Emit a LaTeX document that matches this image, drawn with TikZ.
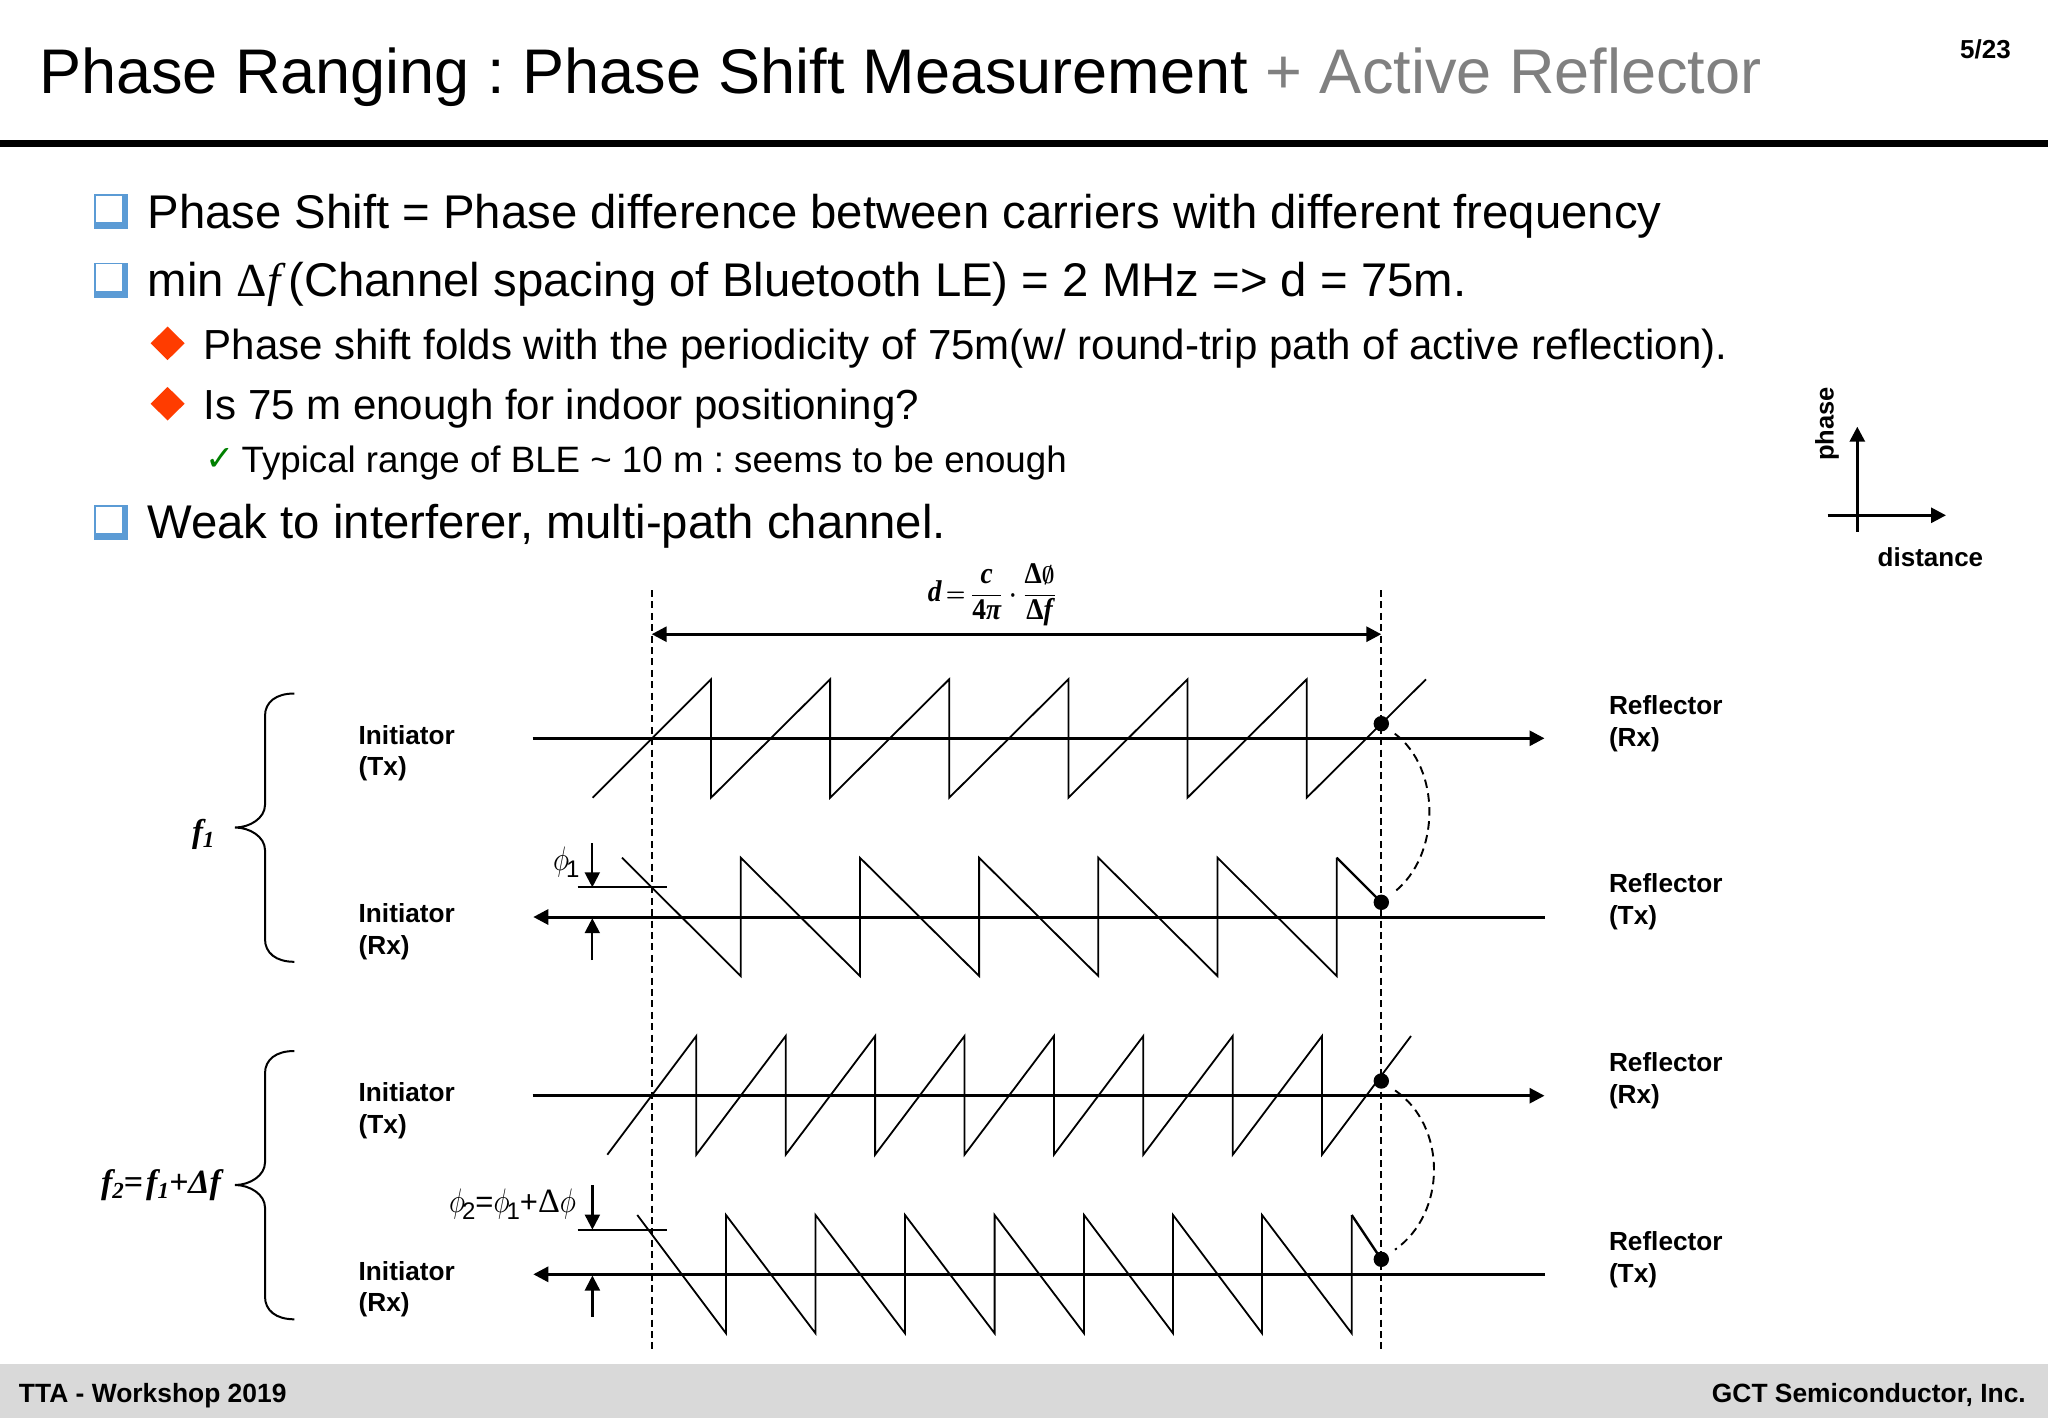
\documentclass[tikz,border=0pt]{standalone}
\usepackage{graphicx}
\usepackage[no-math]{fontspec}
\setmainfont{Liberation Sans}
\newfontfamily\srf{Liberation Serif}
\newfontfamily\djv{DejaVu Sans}
\usetikzlibrary{arrows.meta}
\definecolor{bulblue}{HTML}{5B9BD5}
\definecolor{bulred}{HTML}{FF3C00}
\definecolor{footgray}{HTML}{D9D9D9}
\definecolor{titlegray}{HTML}{808080}
\definecolor{chkgreen}{HTML}{008000}
\AtBeginDocument{\frenchspacing}
\newcommand{\fs}[1]{\fontsize{#1}{#1}\selectfont}
\newcommand{\phisym}{\scalebox{2.7}[3.4]{$\phi$}}
\newcommand{\phisub}[1]{\kern-3pt\raisebox{-7pt}{\fs{24}#1}}
\newcommand{\subit}[1]{\raisebox{-5pt}{\fs{23}#1}}
\newcommand{\fb}[1]{\hbox{\srf\bfseries\itshape\fs{12.5}#1}}
\newcommand{\fu}[1]{\hbox{\srf\bfseries\fs{12.5}#1}}
\tikzset{
  txt/.style={anchor=base west,inner sep=0pt,outer sep=0pt},
  lvlone/.style={txt,font=\fs{47.3}},
  lvltwo/.style={txt,font=\fs{42.05}},
  lvlthree/.style={txt,font=\fs{36.7}},
  lab/.style={anchor=west,inner sep=0pt,outer sep=0pt,align=left,font=\fontsize{26.2}{31.6}\selectfont\bfseries},
  axisline/.style={line width=3pt},
  sawline/.style={line width=1.8pt,line join=miter},
  vdash/.style={line width=1.9pt,dash pattern=on 7pt off 4.4pt},
  arcdash/.style={line width=1.9pt,dash pattern=on 8.5pt off 5.5pt,shorten >=9pt,shorten <=9pt},
  tip/.style={-{Triangle[length=15pt,width=15pt]}},
  dot/.style={circle,fill=black,inner sep=0pt,outer sep=0pt,minimum size=15.4pt},
  bracepath/.style={line width=2pt},
  thinmark/.style={line width=2.2pt},
  bulbox/.pic={
    \fill[bulblue] (0,0) rectangle (34,35);
    \fill[white] (2,1.5) rectangle (28,28);
  },
  buldiam/.pic={
    \fill[bulred] (-17,0) -- (0,-16.8) -- (17,0) -- (0,16.8) -- cycle;
  }
}
\begin{document}
\begin{tikzpicture}[x=1pt,y=-1pt]
\useasboundingbox (0,0) rectangle (2048,1418);
\fill[white] (0,0) rectangle (2048,1418);
% header and footer
\node[txt,font=\fs{63.05}] (title) at (39,94) {Phase Ranging : Phase Shift Measurement {\color{titlegray}+ Active Reflector}};
\node[anchor=base east,inner sep=0pt,font=\fs{26}\bfseries] (pagenum) at (2011,59) {5/23};
\fill[black] (0,140) rectangle (2048,147);
\fill[footgray] (0,1364) rectangle (2048,1418);
\node[txt,font=\fs{26.4}\bfseries] (footl) at (19,1402) {TTA - Workshop 2019};
\node[anchor=base east,inner sep=0pt,font=\fs{26.4}\bfseries] (footr) at (2026,1402) {GCT Semiconductor, Inc.};
% bullets
\pic at (94.4,194) {bulbox};
\pic at (94.4,262.7) {bulbox};
\pic at (94.4,505) {bulbox};
\pic at (167.6,343.3) {buldiam};
\pic at (167.6,403.7) {buldiam};
\node[txt,font=\djv\fs{35},text=chkgreen] (chk) at (205,470) {✓};
\node[lvlone] (l1) at (147.6,228) {Phase Shift = Phase difference between carriers with different frequency};
\node[lvlone] (l2) at (147.6,296) {min {\srf Δ\itshape f\,}(Channel spacing of Bluetooth LE) = 2 MHz => d = 75m.};
\node[lvltwo] (l3) at (203.7,359) {Phase shift folds with the periodicity of 75m(w/ round-trip path of active reflection).};
\node[lvltwo] (l4) at (203.7,419) {Is 75 m enough for indoor positioning?};
\node[lvlthree] (l5) at (241.6,472.7) {Typical range of BLE \textasciitilde{} 10 m : seems to be enough};
\node[lvlone] (l6) at (147.6,538) {Weak to interferer, multi-path channel.};
% small axes
\coordinate (ph0) at (1857.3,531.7);
\coordinate (ph1) at (1857.3,426.7);
\coordinate (di0) at (1827.7,515.3);
\coordinate (di1) at (1946,515.3);
\draw[axisline,tip] (ph0) -- (ph1);
\draw[axisline,tip] (di0) -- (di1);
\node[rotate=90,anchor=center,inner sep=0pt,font=\fs{25.5}\bfseries] (phlab) at (1827,424) {phase};
\node[anchor=base west,inner sep=0pt,font=\fs{26}\bfseries] (dilab) at (1877.5,566) {distance};
% vertical dashed lines
\coordinate (vlt) at (651.7,590);
\coordinate (vlb) at (651.7,1349);
\coordinate (vrt) at (1381.3,590);
\coordinate (vrb) at (1381.3,1349);
\draw[vdash] (vlt) -- (vlb);
\draw[vdash] (vrt) -- (vrb);
% formula and dimension arrow
\node[inner sep=0pt] (formula) at (992.5,595) {\scalebox{2.2}[2.4]{\boldmath$\displaystyle \fb{d}\,{=}\,\frac{\fb{c}}{\fu{4}\fb{π}}\cdot\frac{\fu{Δ}\emptyset}{\fu{Δ}\fb{f}}$}};
\coordinate (dl) at (651.7,634.2);
\coordinate (dr) at (1381.3,634.2);
\draw[axisline,{Triangle[length=15pt,width=15pt]}-{Triangle[length=15pt,width=15pt]}] (dl) -- (dr);
% group 1, Tx
\coordinate (a1l) at (532.7,738.3);
\coordinate (a1r) at (1544.5,738.3);
\draw[axisline,tip] (a1l) -- (a1r);
\draw[sawline] (592.7,797.7) -- (711,679.3) -- (711,797.7) -- (830.1,679.3) -- (830.1,797.7) -- (949.2,679.3) -- (949.2,797.7) -- (1068.4,679.3) -- (1068.4,797.7) -- (1187.5,679.3) -- (1187.5,797.7) -- (1306.7,679.3) -- (1306.7,797.7) -- (1426,679.3);
% group 1, Rx
\coordinate (a2l) at (533.3,917);
\coordinate (a2r) at (1545,917);
\draw[axisline,tip] (a2r) -- (a2l);
\draw[sawline] (622,857.7) -- (740.7,976) -- (740.7,857.7) -- (859.9,976) -- (859.9,857.7) -- (979.1,976) -- (979.1,857.7) -- (1098.3,976) -- (1098.3,857.7) -- (1217.5,976) -- (1217.5,857.7) -- (1336.7,976) -- (1336.7,857.7);
\draw[line width=2.4pt] (1336.7,857.7) -- (1381.3,902.3);
\node[dot] (dot1) at (1381.3,723.7) {};
\node[dot] (dot2) at (1381.3,902.3) {};
\draw[arcdash] (dot1) .. controls (1441,768) and (1441,855) .. (dot2);
% phi 1
\coordinate (p1a) at (592.3,843.3);
\coordinate (p1b) at (592.3,887.3);
\coordinate (p1c) at (592.3,960);
\coordinate (p1d) at (592.3,918.2);
\coordinate (p1e) at (577.7,887.3);
\coordinate (p1f) at (666.7,887.3);
\draw[thinmark,tip] (p1a) -- (p1b);
\draw[thinmark,tip] (p1c) -- (p1d);
\draw[thinmark] (p1e) -- (p1f);
\node[txt] (phi1) at (553,870) {\phisym\phisub{1}};
% group 2, Tx
\coordinate (a3l) at (532.7,1095.7);
\coordinate (a3r) at (1544.5,1095.7);
\draw[axisline,tip] (a3l) -- (a3r);
\draw[sawline] (607.3,1154.7) -- (696.3,1036) -- (696.3,1154.7) -- (785.7,1036) -- (785.7,1154.7) -- (875.1,1036) -- (875.1,1154.7) -- (964.5,1036) -- (964.5,1154.7) -- (1053.9,1036) -- (1053.9,1154.7) -- (1143.3,1036) -- (1143.3,1154.7) -- (1232.7,1036) -- (1232.7,1154.7) -- (1322,1036) -- (1322,1154.7) -- (1411,1036);
% group 2, Rx
\coordinate (a4l) at (533.3,1274.3);
\coordinate (a4r) at (1545,1274.3);
\draw[axisline,tip] (a4r) -- (a4l);
\draw[sawline] (637.3,1215) -- (726,1333.3) -- (726,1215) -- (815.5,1333.3) -- (815.5,1215) -- (905,1333.3) -- (905,1215) -- (994.6,1333.3) -- (994.6,1215) -- (1084,1333.3) -- (1084,1215) -- (1173,1333.3) -- (1173,1215) -- (1262,1333.3) -- (1262,1215) -- (1351.7,1333.3) -- (1351.7,1215);
\draw[line width=2.4pt] (1351.7,1215) -- (1381.3,1259.3);
\node[dot] (dot3) at (1381.3,1081) {};
\node[dot] (dot4) at (1381.3,1259.3) {};
\draw[arcdash] (dot3) .. controls (1447,1126) and (1447,1213) .. (dot4);
% phi 2
\coordinate (p2a) at (592.4,1185);
\coordinate (p2b) at (592.4,1229.6);
\coordinate (p2c) at (592.4,1316.7);
\coordinate (p2d) at (592.4,1275.5);
\coordinate (p2e) at (577.5,1230);
\coordinate (p2f) at (666.7,1230);
\draw[thinmark,tip] (p2a) -- (p2b);
\draw[thinmark,tip] (p2c) -- (p2d);
\draw[thinmark] (p2e) -- (p2f);
\node[txt] (phi2) at (449,1212) {\phisym\phisub{2}{\fs{31}=}\phisym\phisub{1}{\fs{31}+}{\srf\fs{34}Δ}\phisym};
% braces
\draw[bracepath] (294.3,693.5) .. controls (276,693.5) and (265,702) .. (265,716) -- (265,805) .. controls (265,818) and (250,827.5) .. (235,827.5) .. controls (250,827.5) and (265,837) .. (265,850) -- (265,939) .. controls (265,953) and (276,961.8) .. (294.3,961.8);
\draw[bracepath] (294.3,1051) .. controls (276,1051) and (265,1059.5) .. (265,1073.5) -- (265,1162.5) .. controls (265,1175.5) and (250,1185) .. (235,1185) .. controls (250,1185) and (265,1194.5) .. (265,1207.5) -- (265,1296.5) .. controls (265,1310.5) and (276,1319.3) .. (294.3,1319.3);
\node[txt,font=\srf\bfseries\itshape\fs{33}] (f1) at (192,842) {f\subit{1}};
\node[txt,font=\srf\bfseries\itshape\fs{34}] (f2) at (101,1193) {f\subit{2}{\upshape =}\kern3pt f\subit{1}+Δf};
% labels
\node[lab] (i1) at (358.7,753.3) {Initiator\\(Tx)};
\node[lab] (i2) at (358.7,932) {Initiator\\(Rx)};
\node[lab] (i3) at (358.7,1110.7) {Initiator\\(Tx)};
\node[lab] (i4) at (358.7,1289.3) {Initiator\\(Rx)};
\node[lab] (r1) at (1609,723.5) {Reflector\\(Rx)};
\node[lab] (r2) at (1609,902) {Reflector\\(Tx)};
\node[lab] (r3) at (1609,1081) {Reflector\\(Rx)};
\node[lab] (r4) at (1609,1259.5) {Reflector\\(Tx)};
\end{tikzpicture}
\end{document}
